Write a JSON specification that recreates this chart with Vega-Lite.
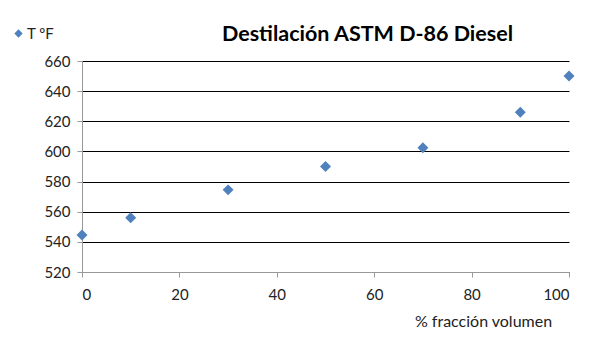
{
  "$schema": "https://vega.github.io/schema/vega-lite/v6.json",
  "width": 487,
  "height": 211,
  "autosize": {"type": "none"},
  "padding": {"left": 82, "top": 61, "right": 34, "bottom": 91},
  "background": "white",
  "config": {"view": {"stroke": null}, "font": "Lato"},
  "title": {
    "text": "Destilación ASTM D-86 Diesel",
    "font": "Lato",
    "fontSize": 21.5,
    "fontWeight": "bold",
    "color": "black",
    "anchor": "middle",
    "dx": 42,
    "dy": 35,
    "offset": 16
  },
  "data": {
    "values": [
      {"x": 0, "y": 544.5, "s": "T ºF"},
      {"x": 10, "y": 556, "s": "T ºF"},
      {"x": 30, "y": 574.5, "s": "T ºF"},
      {"x": 50, "y": 590, "s": "T ºF"},
      {"x": 70, "y": 602.5, "s": "T ºF"},
      {"x": 90, "y": 626, "s": "T ºF"},
      {"x": 100, "y": 650, "s": "T ºF"}
    ]
  },
  "mark": {"type": "point", "shape": "diamond", "filled": true, "size": 120, "opacity": 1},
  "encoding": {
    "x": {
      "field": "x",
      "type": "quantitative",
      "scale": {"domain": [0, 100], "nice": false},
      "axis": {
        "values": [0, 20, 40, 60, 80, 100],
        "grid": false,
        "domainColor": "#999",
        "tickColor": "#999",
        "tickSize": 5,
        "labelFontSize": 15,
        "labelColor": "#222",
        "labelPadding": 10,
        "title": "% fracción volumen",
        "titleFontSize": 16,
        "titleFontWeight": "normal",
        "titleColor": "#222",
        "titleX": 401,
        "titleY": 41,
        "titleAlign": "center"
      }
    },
    "y": {
      "field": "y",
      "type": "quantitative",
      "scale": {"domain": [520, 660], "nice": false, "zero": false},
      "axis": {
        "values": [520, 540, 560, 580, 600, 620, 640, 660],
        "grid": true,
        "gridColor": "black",
        "gridOpacity": 1,
        "domainColor": "#999",
        "tickColor": "#999",
        "tickSize": 5,
        "labelFontSize": 15,
        "labelColor": "#222",
        "labelPadding": 7,
        "title": null
      }
    },
    "color": {
      "field": "s",
      "type": "nominal",
      "scale": {"range": ["#4F81BD"]},
      "legend": {
        "title": null,
        "orient": "none",
        "legendX": -71,
        "legendY": -35,
        "labelFontSize": 15,
        "labelColor": "#222",
        "labelOffset": 1,
        "symbolSize": 70,
        "symbolType": "diamond"
      }
    }
  }
}
